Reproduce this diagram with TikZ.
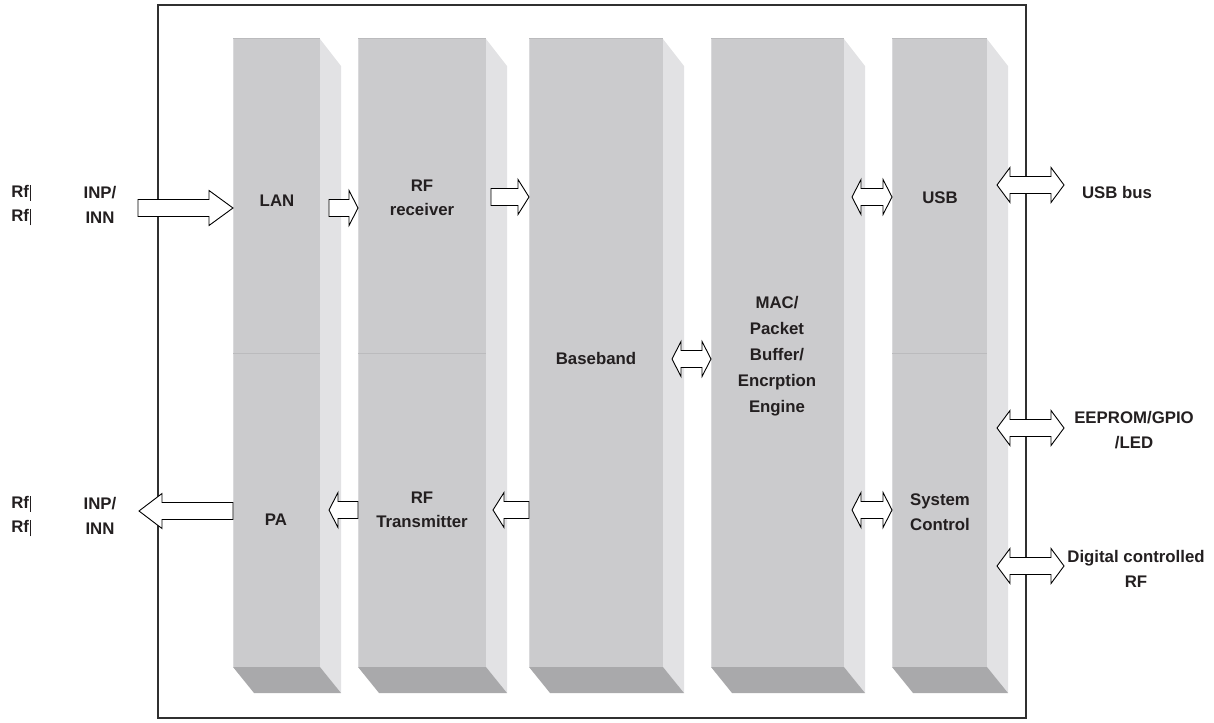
\documentclass[tikz,border=0pt]{standalone}
\usepackage{fontspec}
\setmainfont{Liberation Sans}
\usepackage{xcolor}
\definecolor{bkfront}{HTML}{CBCBCD}
\definecolor{bkside}{HTML}{E2E2E4}
\definecolor{bkbottom}{HTML}{A9A9AB}
\definecolor{bkedge}{HTML}{BBBBBD}
\definecolor{bklight}{HTML}{D9D9DB}
\definecolor{bkframe}{HTML}{303030}
\definecolor{bktext}{HTML}{231F20}
\usepackage{tikz}
\usetikzlibrary{calc, positioning}

\tikzset{
  front/.style={fill=bkfront, inner sep=0pt, outer sep=0pt, minimum height=628pt, anchor=north west},
  blocktext/.style={font=\bfseries\fontsize{16.8}{24.5}\selectfont, text=bktext, align=center, inner sep=0pt},
  blockarr/.style={draw=black, fill=white, line width=0.9pt, line join=miter},
}

% hollow block arrows, #1 = head length
\newcommand{\sarrow}[3][10pt]{%
  \draw[blockarr] ($(#2)+(0,8.5)$) -- ($(#3)!#1!(#2)+(0,8.5)$) -- ($(#3)!#1!(#2)+(0,17.5)$)
    -- (#3) -- ($(#3)!#1!(#2)+(0,-17.5)$) -- ($(#3)!#1!(#2)+(0,-8.5)$) -- ($(#2)+(0,-8.5)$) -- cycle;}
\newcommand{\darrow}[3][10pt]{%
  \draw[blockarr] (#2) -- ($(#2)!#1!(#3)+(0,-17.5)$) -- ($(#2)!#1!(#3)+(0,-8.5)$)
    -- ($(#3)!#1!(#2)+(0,-8.5)$) -- ($(#3)!#1!(#2)+(0,-17.5)$) -- (#3)
    -- ($(#3)!#1!(#2)+(0,17.5)$) -- ($(#3)!#1!(#2)+(0,8.5)$)
    -- ($(#2)!#1!(#3)+(0,8.5)$) -- ($(#2)!#1!(#3)+(0,17.5)$) -- cycle;}
\newcommand{\rfbar}{\kern0.6pt\rule[-3.5pt]{1pt}{16pt}}

\begin{document}
\begin{tikzpicture}[x=1pt, y=-1pt]
  \useasboundingbox (0,0) rectangle (1214,722);
  \draw[bkframe, line width=1.3pt] (158,5) rectangle (1026,718);

  % the five blocks
  \foreach \name/\xl/\w in {lan/233/87, rfrx/358/128, base/529/134, mac/711/133, ctl/892/95} {
    \node[front, minimum width=\w pt] (\name) at (\xl,39) {};
    \fill[bkside] (\name.north east) -- ++(21,27) -- ++(0,627) -- (\name.south east) -- cycle;
    \fill[bkbottom] (\name.south west) -- (\name.south east) -- ++(21,26) -- ++(-\w,0) -- cycle;
    \draw[bkedge, line width=1pt] (\name.north west) -- (\name.north east);
    \draw[bklight, line width=1pt] (\name.north west) -- (\name.south west);
  }
  \foreach \name in {lan, rfrx, ctl}
    \draw[bkedge, line width=1pt] (\name.west |- 0,353) -- (\name.east |- 0,353);

  % texts
  \node[blocktext] (rfa) at (21,205) {Rf\rfbar\\Rf\rfbar};
  \node[blocktext] (inpa) at (100,205) {INP/\\INN};
  \node[blocktext] (rfb) at (21,516) {Rf\rfbar\\Rf\rfbar};
  \node[blocktext] (inpb) at (100,516) {INP/\\INN};
  \node[blocktext] (lantxt) at (277,201) {LAN};
  \node[blocktext] (patxt) at (276,520) {PA};
  \node[blocktext] (rxtxt) at (422,198) {RF\\receiver};
  \node[blocktext] (txtxt) at (422,510) {RF\\Transmitter};
  \node[blocktext] (bbtxt) at (596,358) {Baseband};
  \node[blocktext, font=\bfseries\fontsize{16.8}{26}\selectfont] (mactxt) at (777,356)
    {MAC/\\Packet\\Buffer/\\Encrption\\Engine};
  \node[blocktext] (usbtxt) at (940,198) {USB};
  \node[blocktext] (systxt) at (940,512) {System\\Control};
  \node[blocktext] (bustxt) at (1117,192) {USB bus};
  \node[blocktext] (eetxt) at (1134,430) {EEPROM/GPIO\\/LED};
  \node[blocktext] (dgtxt) at (1136,569) {Digital controlled\\RF};

  % connector ends
  \coordinate (inA) at (138,208);
  \coordinate (inB) at (lan.west |- inA);
  \coordinate (lr1) at ($(lan.east |- 0,208)+(9,0)$);
  \coordinate (lr2) at (rfrx.west |- lr1);
  \coordinate (rb1) at ($(rfrx.east |- 0,197)+(5,0)$);
  \coordinate (rb2) at (base.west |- rb1);
  \coordinate (bm1) at ($(base.east |- 0,359)+(9,0)$);
  \coordinate (bm2) at (mac.west |- bm1);
  \coordinate (mc1) at ($(mac.east |- 0,197)+(8,0)$);
  \coordinate (mc2) at (ctl.west |- mc1);
  \coordinate (ms1) at ($(mac.east |- 0,510)+(8,0)$);
  \coordinate (ms2) at (ctl.west |- ms1);
  \coordinate (ub1) at ($(ctl.east |- 0,185)+(10,0)$);
  \coordinate (ub2) at (1064,185);
  \coordinate (ee1) at ($(ctl.east |- 0,428)+(10,0)$);
  \coordinate (ee2) at (1064,428);
  \coordinate (dg1) at ($(ctl.east |- 0,566)+(10,0)$);
  \coordinate (dg2) at (1064,566);
  \coordinate (tp1) at (rfrx.west |- 0,510);
  \coordinate (tp2) at ($(lan.east |- 0,510)+(9,0)$);
  \coordinate (bt1) at (base.west |- 0,510);
  \coordinate (bt2) at ($(rfrx.east |- 0,510)+(7,0)$);
  \coordinate (po1) at (lan.west |- 0,511);
  \coordinate (po2) at (139,511);

  % connectors
  \sarrow[24pt]{inA}{inB}
  \sarrow[9pt]{lr1}{lr2}
  \sarrow[11pt]{rb1}{rb2}
  \darrow[9pt]{bm1}{bm2}
  \darrow[9pt]{mc1}{mc2}
  \darrow[9pt]{ms1}{ms2}
  \darrow[13pt]{ub1}{ub2}
  \darrow[13pt]{ee1}{ee2}
  \darrow[13pt]{dg1}{dg2}
  \sarrow[9pt]{tp1}{tp2}
  \sarrow[11pt]{bt1}{bt2}
  \sarrow[23pt]{po1}{po2}
\end{tikzpicture}
\end{document}
